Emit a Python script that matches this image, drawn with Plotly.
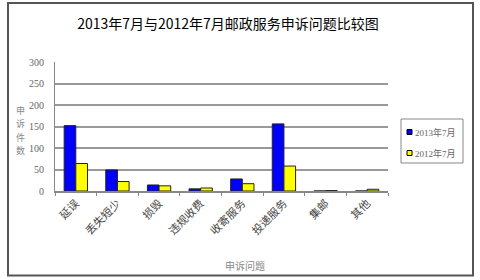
import plotly.graph_objects as go

categories = ["延误", "丢失短少", "损毁", "违规收费", "收寄服务", "投递服务", "集邮", "其他"]
series_2013 = [152, 49, 14, 5, 28, 156, 0, 0]
series_2012 = [64, 22, 12, 7, 17, 58, 1, 4]
name_2013 = "2013年7月"
name_2012 = "2012年7月"
y_ticks = [0, 50, 100, 150, 200, 250, 300]
y_label_chars = ["申", "诉", "件", "数"]
color_2013 = "#0000FF"
color_2012 = "#FFFF00"

W, H = 480, 280
L, R, T, B = 55, 388, 62, 191
pw, ph = R - L, B - T

def px(x):
    return (x - L) / pw

def py(y):
    return (B - y) / ph

FONT = "Liberation Serif, Noto Sans CJK SC, serif"

fig = go.Figure()
fig.add_bar(x=categories, y=series_2013, name=name_2013, showlegend=False,
            marker=dict(color=color_2013, line=dict(color="#222222", width=1)))
fig.add_bar(x=categories, y=series_2012, name=name_2012, showlegend=False,
            marker=dict(color=color_2012, line=dict(color="#222222", width=1)))

fig.update_layout(
    width=W, height=H,
    margin=dict(l=L, r=W - R, t=T, b=H - B, pad=0, autoexpand=False),
    paper_bgcolor="white", plot_bgcolor="white",
    barmode="group", bargap=0.44, bargroupgap=0,
    showlegend=False,
    font=dict(family=FONT, size=10, color="#666666"),
    title=dict(text="2013年7月与2012年7月邮政服务申诉问题比较图",
               x=228 / W, xanchor="center", y=1 - 24 / H, yanchor="middle",
               font=dict(family="Noto Sans CJK SC", size=14, color="#000000")),
    xaxis=dict(type="category", tickson="boundaries", ticks="outside", ticklen=3,
               tickcolor="#888888", tickangle=-45, showgrid=False, automargin=False,
               showline=True, linecolor="#888888", linewidth=1.5,
               tickfont=dict(family="Noto Sans CJK SC", size=11, color="#444444")),
    yaxis=dict(range=[0, 300], tickvals=y_ticks, ticks="outside", ticklen=0,
               showgrid=True, gridcolor="#999999", gridwidth=1.5, automargin=False,
               showline=True, linecolor="#888888", linewidth=1,
               zeroline=False, ticklabelstandoff=8,
               tickfont=dict(family=FONT, size=10, color="#666666")),
)

for i, ch in enumerate(y_label_chars):
    fig.add_annotation(text=ch, xref="paper", yref="paper",
                       x=px(20), y=py(110 + i * 13.5), showarrow=False,
                       xanchor="center", yanchor="middle",
                       font=dict(family="Noto Sans CJK SC", size=9, color="#888888"))

fig.add_annotation(text="申诉问题", xref="paper", yref="paper",
                   x=px(245), y=py(265), showarrow=False, xanchor="center", yanchor="middle",
                   font=dict(family="Noto Sans CJK SC", size=10, color="#888888"))

# manual legend
fig.add_shape(type="rect", xref="paper", yref="paper",
              x0=px(401), x1=px(463), y0=py(163), y1=py(119),
              line=dict(color="#888888", width=1), fillcolor="white")
for yc, nm, col in [(132, name_2013, color_2013), (153, name_2012, color_2012)]:
    fig.add_shape(type="rect", xref="paper", yref="paper",
                  x0=px(407), x1=px(412), y0=py(yc + 2.5), y1=py(yc - 2.5),
                  line=dict(color="#000000", width=1), fillcolor=col)
    fig.add_annotation(text=nm, xref="paper", yref="paper",
                       x=px(413), y=py(yc), showarrow=False, xanchor="left", yanchor="middle",
                       font=dict(family=FONT, size=9, color="#666666"))

fig.add_shape(type="rect", xref="paper", yref="paper",
              x0=px(8), x1=px(473), y0=py(275.5), y1=py(3),
              line=dict(color="#555555", width=2), fillcolor="rgba(0,0,0,0)", layer="below")

fig.write_html("out.html")
